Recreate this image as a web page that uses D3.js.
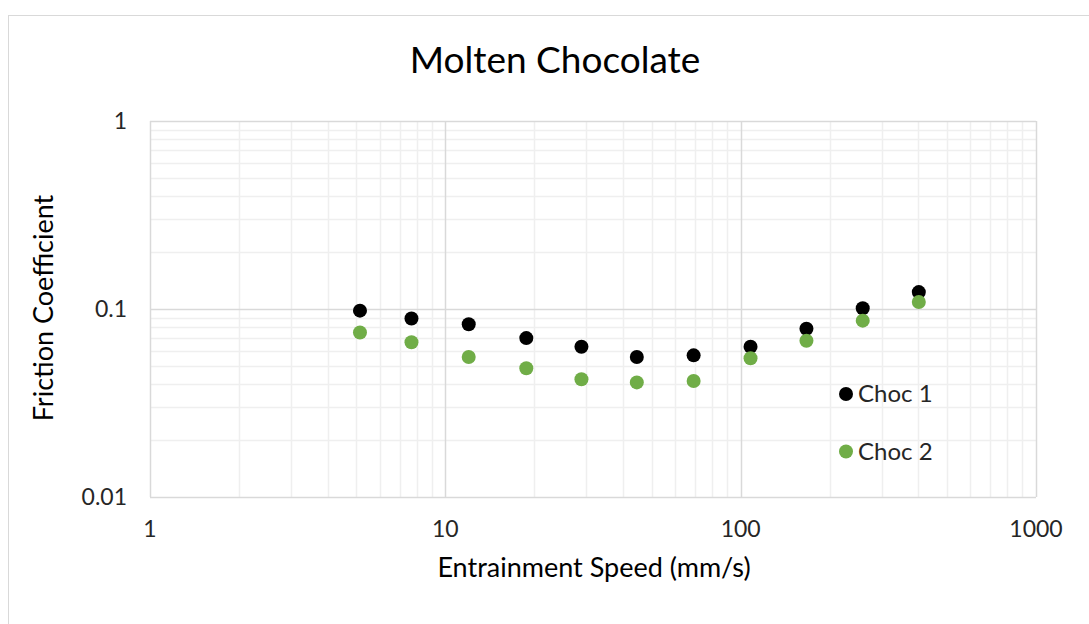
<!DOCTYPE html>
<html>
<head>
<meta charset="utf-8">
<title>Molten Chocolate</title>
<script src="https://cdn.jsdelivr.net/npm/d3@7"></script>
<style>
  body { margin: 0; background: #fff; font-family: Lato, "Open Sans", sans-serif; }
</style>
</head>
<body>
<svg id="chart" width="1089" height="624"></svg>
<script>
// data
let speeds = [5.14, 7.68, 12.0, 18.8, 28.9, 44.5, 69.3, 108, 167, 259, 401]
let choc1 = [0.098, 0.089, 0.083, 0.070, 0.063, 0.0555, 0.0567, 0.063, 0.0785, 0.101, 0.123]
let choc2 = [0.075, 0.0665, 0.0555, 0.0484, 0.0423, 0.0407, 0.0414, 0.0547, 0.0678, 0.0867, 0.109]
let seriesNames = ["Choc 1", "Choc 2"]
let seriesColors = ["#000000", "#70ad47"]
let xTicks = [1, 10, 100, 1000]
let yTicks = [0.01, 0.1, 1]

let svg = d3.select("#chart")
let plot = {left: 150, top: 121, right: 1036, bottom: 497}

// outer chart border
svg.append("rect")
    .attr("x", 8.5).attr("y", 15.5)
    .attr("width", 1100).attr("height", 700)
    .attr("fill", "none").attr("stroke", "#d9d9d9")

let x = d3.scaleLog().domain([1, 1000]).range([plot.left, plot.right])
let y = d3.scaleLog().domain([0.01, 1]).range([plot.bottom, plot.top])

// minor gridlines (2..9 in every decade)
let minorX = []
let minorY = []
for (let d = 1; d < 1000; d *= 10)
    for (let k = 2; k <= 9; k++) minorX.push(d * k)
for (let d = 0.01; d < 0.99; d *= 10)
    for (let k = 2; k <= 9; k++) minorY.push(d * k)

svg.append("g").selectAll("line").data(minorX).enter().append("line")
    .attr("x1", d => Math.round(x(d)) + 0.5).attr("x2", d => Math.round(x(d)) + 0.5)
    .attr("y1", plot.top).attr("y2", plot.bottom)
    .attr("stroke", "#efefef").attr("stroke-width", 1.5)

svg.append("g").selectAll("line").data(minorY).enter().append("line")
    .attr("y1", d => Math.round(y(d)) + 0.5).attr("y2", d => Math.round(y(d)) + 0.5)
    .attr("x1", plot.left).attr("x2", plot.right)
    .attr("stroke", "#efefef").attr("stroke-width", 1.5)

// major gridlines
svg.append("g").selectAll("line").data(xTicks).enter().append("line")
    .attr("x1", d => Math.round(x(d)) + 0.5).attr("x2", d => Math.round(x(d)) + 0.5)
    .attr("y1", plot.top).attr("y2", plot.bottom)
    .attr("stroke", "#d9d9d9").attr("stroke-width", 1.5)

svg.append("g").selectAll("line").data(yTicks).enter().append("line")
    .attr("y1", d => Math.round(y(d)) + 0.5).attr("y2", d => Math.round(y(d)) + 0.5)
    .attr("x1", plot.left).attr("x2", plot.right)
    .attr("stroke", "#d9d9d9").attr("stroke-width", 1.5)

// tick labels
svg.append("g").selectAll("text").data(xTicks).enter().append("text")
    .attr("x", d => x(d)).attr("y", 537)
    .attr("text-anchor", "middle")
    .attr("font-size", 23).attr("fill", "#262626")
    .text(d => d)

svg.append("g").selectAll("text").data(yTicks).enter().append("text")
    .attr("x", 127).attr("y", d => y(d) + 7.5)
    .attr("text-anchor", "end")
    .attr("font-size", 23).attr("fill", "#262626")
    .text(d => d)

// points
let series = [choc1, choc2]
series.forEach((vals, s) => {
    svg.append("g").selectAll("circle").data(vals).enter().append("circle")
        .attr("cx", (d, i) => x(speeds[i]))
        .attr("cy", d => y(d))
        .attr("r", 7)
        .attr("fill", seriesColors[s])
})

// legend
let legend = svg.append("g").selectAll("g").data(seriesNames).enter().append("g")
    .attr("transform", (d, i) => "translate(846," + (394 + i * 57.5) + ")")
legend.append("circle").attr("r", 7).attr("fill", (d, i) => seriesColors[i])
legend.append("text").attr("x", 12).attr("y", 8)
    .attr("font-size", 24).attr("fill", "#262626")
    .text(d => d)

// titles
svg.append("text")
    .attr("x", 555).attr("y", 73)
    .attr("text-anchor", "middle")
    .attr("font-size", 37).attr("fill", "#000")
    .text("Molten Chocolate")

svg.append("text")
    .attr("x", 594).attr("y", 577)
    .attr("text-anchor", "middle")
    .attr("font-size", 27).attr("fill", "#000")
    .text("Entrainment Speed (mm/s)")

svg.append("text")
    .attr("transform", "translate(53,308) rotate(-90)")
    .attr("text-anchor", "middle")
    .attr("font-size", 27).attr("fill", "#000")
    .text("Friction Coefficient")
</script>
</body>
</html>
